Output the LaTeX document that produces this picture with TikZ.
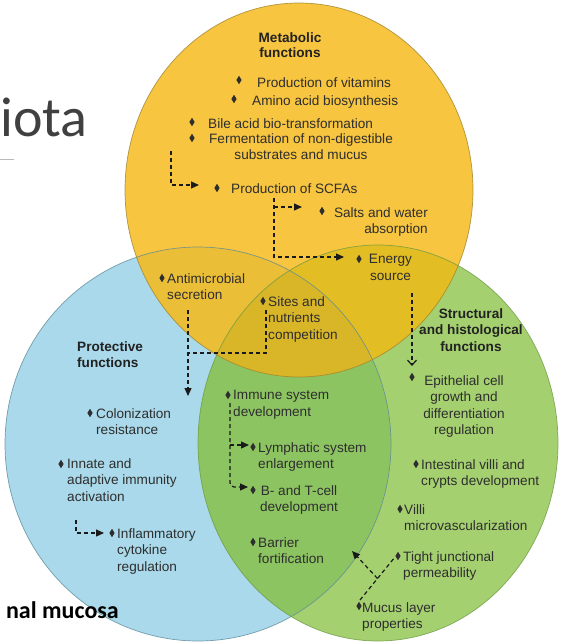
\documentclass[tikz,border=0pt]{standalone}
\usepackage{fontspec}
\setmainfont{Liberation Sans}
\newfontfamily\calib{Carlito}
\usetikzlibrary{shapes.geometric,arrows.meta}
\definecolor{ybase}{HTML}{F7C53F}
\definecolor{bbase}{HTML}{A9D9EA}
\definecolor{gbase}{HTML}{A5D070}
\definecolor{ybcol}{HTML}{EBBE38}
\definecolor{ygcol}{HTML}{E3BD24}
\definecolor{ybgcol}{HTML}{D9B628}
\definecolor{bgcol}{HTML}{8DC462}
\definecolor{yline}{HTML}{9C8430}
\definecolor{bline}{HTML}{5E8A9A}
\definecolor{gline}{HTML}{6E9A45}
\definecolor{tc}{HTML}{2E2E2E}
\definecolor{hc}{HTML}{222222}
\definecolor{ac}{HTML}{1A1A1A}
\definecolor{bigc}{HTML}{404040}
\begin{document}
\begin{tikzpicture}[x=1pt,y=-1pt,
  txt/.style={font=\fontsize{13.6}{16.6}\selectfont, text=tc, inner sep=0pt},
  itm/.style={txt, anchor=north west, align=left},
  itmc/.style={txt, anchor=north, align=center},
  hdr/.style={txt, font=\fontsize{13.6}{16.6}\selectfont\bfseries, text=hc},
  dia/.style={diamond, shape aspect=0.6, fill=tc, inner sep=0pt, minimum width=5.4pt, minimum height=8.6pt},
  con/.style={draw=ac, line width=1.2pt, dash pattern=on 4pt off 3pt},
  arr/.style={con, -{Triangle[length=8pt,width=7pt]}},
  oarr/.style={con, -{Straight Barb[length=5pt,width=9pt]}},
  outl/.style={line width=0.7pt}
]
\useasboundingbox (0,0) rectangle (564,642);
\fill[white] (0,0) rectangle (564,642);
% base fills
\fill[bbase] (198,444) ellipse [x radius=193pt, y radius=197pt];
\fill[gbase] (378,443) ellipse [x radius=180pt, y radius=198pt];
\fill[ybase] (299,190) ellipse [x radius=174pt, y radius=187pt];
% overlaps
\begin{scope}
  \clip (198,444) ellipse [x radius=193pt, y radius=197pt];
  \fill[bgcol] (378,443) ellipse [x radius=180pt, y radius=198pt];
  \fill[ybcol] (299,190) ellipse [x radius=174pt, y radius=187pt];
\end{scope}
\begin{scope}
  \clip (378,443) ellipse [x radius=180pt, y radius=198pt];
  \fill[ygcol] (299,190) ellipse [x radius=174pt, y radius=187pt];
\end{scope}
\begin{scope}
  \clip (198,444) ellipse [x radius=193pt, y radius=197pt];
  \clip (378,443) ellipse [x radius=180pt, y radius=198pt];
  \fill[ybgcol] (299,190) ellipse [x radius=174pt, y radius=187pt];
\end{scope}
% outlines
\draw[outl, bline, opacity=0.8] (198,444) ellipse [x radius=193pt, y radius=197pt];
\draw[outl, gline, opacity=0.8] (378,443) ellipse [x radius=180pt, y radius=198pt];
\draw[outl, yline, opacity=0.8] (299,190) ellipse [x radius=174pt, y radius=187pt];

% slide remnants
\node[font=\calib\fontsize{56}{56}\selectfont, text=bigc, anchor=base east, inner sep=0pt] (ttl) at (88,136) {iota};
\draw[gray!55, line width=1pt] (0,159) -- (14,159);
\node[font=\calib\bfseries\fontsize{24}{24}\selectfont, text=black, anchor=base east, inner sep=0pt] (sub) at (119,618) {nal mucosa};

% ---------- Metabolic ----------
\node[hdr, anchor=north, align=center, font=\fontsize{13.6}{15.5}\selectfont\bfseries] (hm) at (290,32) {Metabolic\\functions};
\node[dia] (d1) at (239,80) {};
\node[itm] (t1) at (257,77) {Production of vitamins};
\node[dia] (d2) at (234,99) {};
\node[itm] (t2) at (252,95) {Amino acid biosynthesis};
\node[dia] (d3) at (192,122) {};
\node[itm] (t3) at (208,118) {Bile acid bio-transformation};
\node[dia] (d4) at (192,138) {};
\node[itmc] (t4) at (301,133) {Fermentation of non-digestible\\substrates and mucus};
\node[dia] (d5) at (217,188) {};
\node[itm] (t5) at (231,183) {Production of SCFAs};
\node[dia] (d6) at (322,211) {};
\node[txt, anchor=north east, align=right] (t6) at (428,207) {Salts and water\\absorption};
\node[dia] (d7) at (359,259) {};
\node[itmc] (t7) at (390.5,254) {Energy\\source};

% ---------- Yellow/Blue overlap ----------
\node[dia] (d8) at (162,278) {};
\node[itm] (t8) at (167,273) {Antimicrobial\\secretion};
\node[dia] (d9) at (263,301) {};
\node[itm] (t9) at (268,296) {Sites and\\nutrients\\competition};

% ---------- Protective ----------
\node[hdr, anchor=north west, align=left] (hp) at (77,341) {Protective\\functions};
\node[dia] (d10) at (90,413) {};
\node[itm] (t10) at (96,408) {Colonization\\resistance};
\node[dia] (d11) at (61,464) {};
\node[itm] (t11) at (67,458) {Innate and\\adaptive immunity\\activation};
\node[dia] (d12) at (112,533) {};
\node[itm] (t12) at (117,528) {Inflammatory\\cytokine\\regulation};

% ---------- Blue/Green overlap ----------
\node[dia] (d13) at (228,395) {};
\node[itm] (t13) at (233,390) {Immune system\\development};
\node[dia] (d14) at (253,447) {};
\node[itm] (t14) at (258,442) {Lymphatic system\\enlargement};
\node[dia] (d15) at (253,490) {};
\node[itmc] (t15) at (299,485) {B- and T-cell\\development};
\node[dia] (d16) at (253,542) {};
\node[itm] (t16) at (258,537) {Barrier\\fortification};

% ---------- Structural ----------
\node[hdr, anchor=north, align=center] (hs) at (471,308) {Structural\\and histological\\functions};
\node[dia] (d17) at (412,377) {};
\node[itmc] (t17) at (464,375) {Epithelial cell\\growth and\\differentiation\\regulation};
\node[dia] (d18) at (416,464) {};
\node[itm] (t18) at (421,459) {Intestinal villi and\\crypts development};
\node[dia] (d19) at (400,509) {};
\node[itm] (t19) at (404,504) {Villi\\microvascularization};
\node[dia] (d20) at (398,556) {};
\node[itm] (t20) at (403,551) {Tight junctional\\permeability};
\node[dia] (d21) at (359,606) {};
\node[itm] (t21) at (362,602) {Mucus layer\\properties};

% ---------- connectors ----------
\coordinate (fA) at (171,151);
\coordinate (scfaIn) at (199,185);
\draw[arr] (fA) |- (scfaIn);

\coordinate (sc0) at (274,198);
\coordinate (sc1) at (274,207);
\coordinate (saltIn) at (302,207);
\coordinate (enIn) at (344,257);
\draw[arr] (sc0) |- (enIn);
\draw[arr] (sc1) -- (saltIn);

\coordinate (en0) at (412,293);
\coordinate (stIn) at (412,366);
\draw[oarr] (en0) -- (stIn);

\coordinate (am0) at (188,310);
\coordinate (prIn) at (188,396);
\coordinate (si0) at (266,310);
\coordinate (siJ) at (188,353);
\draw[arr] (am0) -- (prIn);
\draw[con] (si0) |- (siJ);

\coordinate (im0) at (230,403);
\coordinate (lyJ) at (230,445);
\coordinate (lyIn) at (249,445);
\coordinate (btIn) at (248,487);
\draw[arr, rounded corners=4pt] (im0) |- (btIn);
\draw[arr] (lyJ) -- (lyIn);

\coordinate (in0) at (76,520);
\coordinate (ifIn) at (104,533);
\draw[arr] (in0) |- (ifIn);

\coordinate (mu0) at (360,600);
\coordinate (tj0) at (395,557);
\coordinate (mtJ) at (377.5,578.5);
\coordinate (baIn) at (352,551);
\draw[con] (mu0) -- (tj0);
\draw[arr] (mtJ) -- (baIn);
\end{tikzpicture}
\end{document}
